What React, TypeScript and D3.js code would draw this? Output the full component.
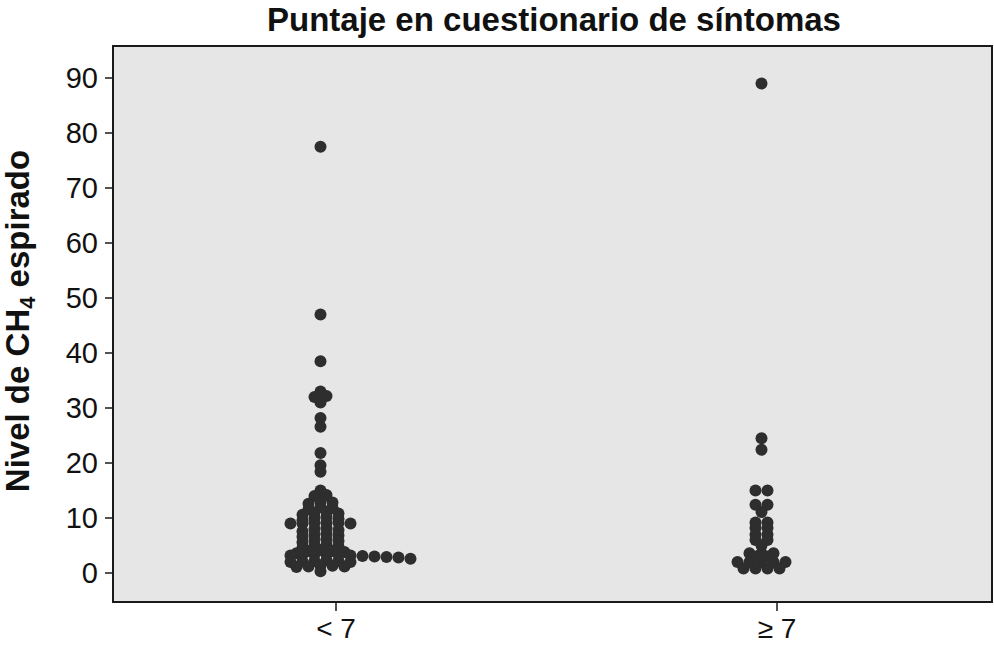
import React from "react";
import * as d3 from "d3";

// ---- data ----
const categories = ["< 7", "≥ 7"];
const yTickValues = [0, 10, 20, 30, 40, 50, 60, 70, 80, 90];

// exhaled CH4 level, symptom score < 7
const groupLow = [
  77.5, 47.0, 38.5,
  33.0, 32.2, 32.0, 31.0,
  28.2, 26.6,
  21.8, 19.6, 18.4,
  15.0, 14.2, 14.0,
  13.0, 12.8, 12.6,
  12.0, 11.8, 11.6,
  11.2, 11.0, 10.8, 10.6,
  10.2, 10.0, 9.8, 9.6,
  9.2, 9.1, 9.1, 9.0, 9.0, 9.0,
  8.2, 8.0, 7.8, 7.6,
  7.2, 7.0, 6.8, 6.6,
  6.2, 6.0, 5.8, 5.6,
  5.2, 5.0, 4.8, 4.6,
  4.2, 4.0, 4.0, 3.8, 3.6,
  3.4, 3.4, 3.3, 3.3, 3.2, 3.2, 3.1, 3.0, 2.9, 2.8, 2.6,
  2.3, 2.2, 2.2, 2.1, 2.0, 2.0,
  1.4, 1.3, 1.2, 1.2, 1.1,
  0.3,
];

// exhaled CH4 level, symptom score >= 7
const groupHigh = [
  89.0, 24.5, 22.4,
  15.0, 15.0,
  12.4, 12.4, 11.1,
  9.2, 9.2, 8.2, 8.2, 7.0, 7.0, 6.0, 6.0, 5.0,
  3.6, 3.6, 3.6, 3.0, 3.0,
  2.0, 2.0, 2.0, 2.0, 2.0,
  0.8, 0.8, 0.8, 0.8,
];

const groups = [groupLow, groupHigh];

// ---- layout / style constants ----
const W = 994;
const H = 645;
const FRAME = { left: 113, right: 992, top: 46, bottom: 602 };
const SLOT = 12;
const LEFT_LIMIT = 2.5;
const DOT_R = 6;
const DOT_SHIFT = -15.5;
const FONT = "'Liberation Sans', Arial, Helvetica, sans-serif";

function dotLayout(values: number[]) {
  const bins = d3.group(values, (v) => Math.round(v));
  const out: { v: number; slot: number }[] = [];
  for (const [, vs] of bins) {
    const sorted = [...vs].sort((a, b) => b - a);
    const n = sorted.length;
    let slots: number[];
    if (n <= 2 * LEFT_LIMIT + 1) {
      slots = d3.range(n).map((i) => i - (n - 1) / 2);
    } else {
      slots = d3.range(n).map((i) => -LEFT_LIMIT + i);
    }
    slots.sort((a, b) => Math.abs(a) - Math.abs(b) || b - a);
    sorted.forEach((v, i) => out.push({ v, slot: slots[i] }));
  }
  return out;
}

export default function App() {
  const x = d3.scalePoint<string>().domain(categories).range([336, 777]);
  const y = d3.scaleLinear().domain([0, 90]).range([573, 78]);

  return (
    <svg
      width={W}
      height={H}
      style={{ position: "absolute", left: 0, top: 0, background: "#fff" }}
      fontFamily={FONT}
    >
      <rect x={0} y={0} width={W} height={H} fill="#fff" />
      <text
        x={554}
        y={31}
        textAnchor="middle"
        fontSize={33}
        fontWeight="bold"
        fill="#111"
      >
        Puntaje en cuestionario de síntomas
      </text>
      <rect
        x={FRAME.left}
        y={FRAME.top}
        width={FRAME.right - FRAME.left}
        height={FRAME.bottom - FRAME.top}
        fill="#e6e6e6"
        stroke="#1a1a1a"
        strokeWidth={2}
      />
      {yTickValues.map((t) => (
        <g key={t}>
          <line x1={FRAME.left - 8} x2={FRAME.left} y1={y(t)} y2={y(t)} stroke="#1a1a1a" strokeWidth={1.5} />
          <text x={98} y={y(t)} dy="0.36em" textAnchor="end" fontSize={29} fill="#111">
            {t}
          </text>
        </g>
      ))}
      {categories.map((c) => (
        <g key={c}>
          <line x1={x(c)} x2={x(c)} y1={FRAME.bottom} y2={FRAME.bottom + 9} stroke="#1a1a1a" strokeWidth={1.5} />
          <text x={x(c)} y={638} textAnchor="middle" fontSize={28} fill="#111">
            {c}
          </text>
        </g>
      ))}
      <text
        transform="translate(29,321) rotate(-90)"
        textAnchor="middle"
        fontSize={33}
        fontWeight="bold"
        fill="#111"
      >
        Nivel de CH
        <tspan fontSize={22} dy={6}>4</tspan>
        <tspan dy={-6}> espirado</tspan>
      </text>
      {groups.map((g, gi) =>
        dotLayout(g).map((d, i) => (
          <circle
            key={`${gi}-${i}`}
            cx={(x(categories[gi]) as number) + DOT_SHIFT + d.slot * SLOT}
            cy={y(d.v)}
            r={DOT_R}
            fill="#2e2e2e"
          />
        ))
      )}
    </svg>
  );
}
